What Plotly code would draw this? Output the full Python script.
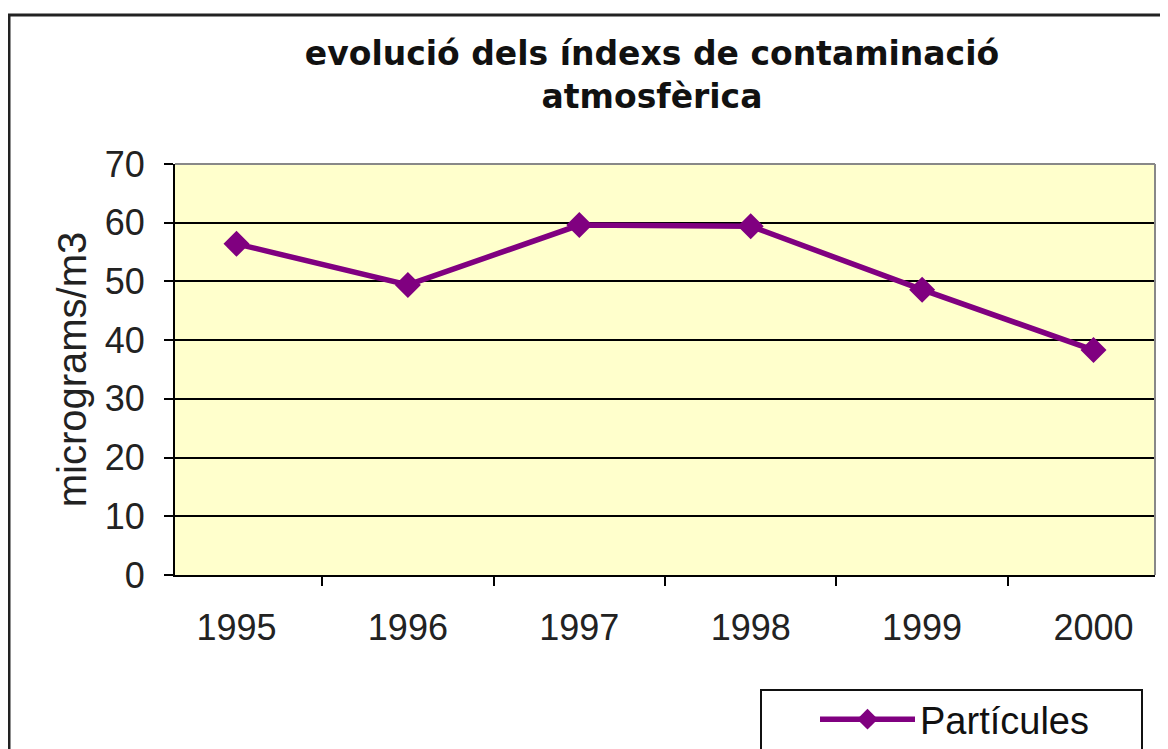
import plotly.graph_objects as go

years = ["1995", "1996", "1997", "1998", "1999", "2000"]
particules = [56.4, 49.4, 59.6, 59.4, 48.6, 38.3]
y_ticks = [0, 10, 20, 30, 40, 50, 60, 70]

# page body adds an 8px offset; target screen pixels are shifted by it
OFF = 8
W, H = 1168, 749
L, T = 175 - OFF, 164 - OFF
R = W - (1155 - OFF)
B = H - (575 - OFF)
pw, ph = W - L - R, H - T - B

def px_x(p):
    return (p - OFF - L) / pw

def px_y(p):
    return (H - B - (p - OFF)) / ph

fig = go.Figure()
fig.add_trace(go.Scatter(
    x=years, y=particules, mode="lines+markers", name="Partícules",
    line=dict(color="#800080", width=5.5),
    marker=dict(symbol="diamond", size=20, color="#800080"),
))

font_main = "Liberation Sans, Arial, sans-serif"
font_title = "DejaVu Sans, Liberation Sans, sans-serif"

fig.update_layout(
    width=W, height=H,
    margin=dict(l=L, r=R, t=T, b=B, autoexpand=False),
    paper_bgcolor="white",
    plot_bgcolor="#FFFFCC",
    title=dict(
        text="evolució dels índexs de contaminació<br>atmosfèrica",
        x=(652 - OFF) / W, xanchor="center", xref="container",
        y=1 - (65 - OFF) / H, yanchor="middle", yref="container",
        font=dict(family=font_title, size=33, color="#111", weight="bold"),
    ),
    showlegend=True,
    legend=dict(
        x=px_x(815), y=px_y(688), xanchor="left", yanchor="top",
        font=dict(family=font_main, size=38, color="#111"),
        bgcolor="rgba(0,0,0,0)", borderwidth=0, itemwidth=95,
    ),
    xaxis=dict(
        type="category", showline=True, linecolor="black", linewidth=2,
        ticks="outside", tickson="boundaries", ticklen=9, tickcolor="black", tickwidth=2,
        showgrid=False, ticklabelstandoff=20, automargin=False,
        tickfont=dict(family=font_main, size=36, color="#222"),
    ),
    yaxis=dict(
        range=[0, 70], tickvals=y_ticks, showline=True, linecolor="black", linewidth=2,
        ticks="outside", ticklen=9, tickcolor="black", tickwidth=2,
        showgrid=True, gridcolor="black", gridwidth=2, zeroline=False,
        ticklabelstandoff=12, automargin=False,
        tickfont=dict(family=font_main, size=36, color="#222"),
        title=dict(text="micrograms/m3", standoff=6,
                   font=dict(family=font_main, size=40, color="#222")),
    ),
    shapes=[
        dict(type="line", xref="paper", yref="paper", x0=0, x1=1, y0=1, y1=1,
             line=dict(color="#888", width=2), layer="above"),
        dict(type="line", xref="paper", yref="paper", x0=1, x1=1, y0=0, y1=1,
             line=dict(color="#888", width=2), layer="above"),
        dict(type="rect", xref="paper", yref="paper",
             x0=px_x(9), x1=px_x(1190), y0=px_y(15), y1=px_y(790),
             line=dict(color="#222", width=3), layer="below"),
        dict(type="rect", xref="paper", yref="paper",
             x0=px_x(761), x1=px_x(1142), y0=px_y(690), y1=px_y(790),
             line=dict(color="#111", width=2), layer="above"),
    ],
)

fig.write_html("out.html")
